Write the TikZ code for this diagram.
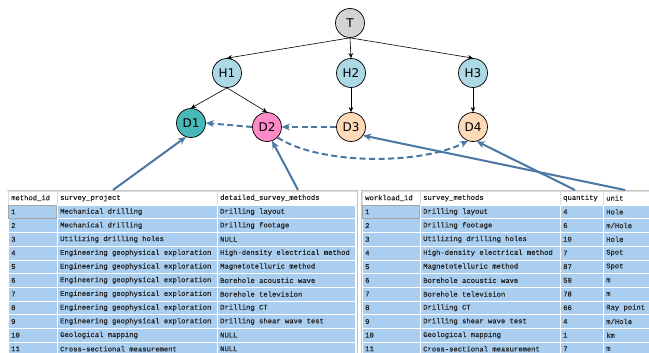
\documentclass[tikz,border=0pt]{standalone}
\usepackage{fontspec}
\setmainfont{DejaVu Sans}
\newfontfamily\tabfont[FakeBold=0.4]{Liberation Mono}
\usetikzlibrary{arrows.meta}
\definecolor{tcol}{HTML}{D3D3D3}
\definecolor{hcol}{HTML}{ADD8E6}
\definecolor{donecol}{HTML}{48B8B8}
\definecolor{dtwocol}{HTML}{FF8AC8}
\definecolor{dthreecol}{HTML}{FFDAB9}
\definecolor{linkcol}{HTML}{4A77A3}
\definecolor{rowcol}{HTML}{A9CEF0}
\definecolor{gridcol}{HTML}{C4C4C4}
\definecolor{tabink}{HTML}{222222}
\tikzset{
  vert/.style={circle, draw=black, line width=0.7pt, minimum size=29pt, inner sep=0pt, font=\fontsize{12}{12}\selectfont},
  treeedge/.style={-{Stealth[length=5pt,width=4.5pt]}, line width=0.6pt, black},
  link/.style={draw=linkcol, line width=2pt, -{Stealth[length=8pt,width=7pt]}},
  dlink/.style={link, dash pattern=on 6pt off 3.5pt},
  tabtext/.style={anchor=west, inner sep=0pt, text=tabink, font=\tabfont\fontsize{7.2}{8}\selectfont},
  cell/.style={fill=rowcol, draw=white, line width=0.6pt},
  hcell/.style={fill=white, draw=gridcol!60, line width=0.5pt},
  selcell/.style={draw=gray!70, line width=0.5pt},
}
\newcommand\ltabrow[4]{%
  \pgfmathsetmacro\rowtop{205+(#1-1)*13.7}%
  \pgfmathsetmacro\rowbot{\rowtop+13.7}%
  \pgfmathsetmacro\rowmid{\rowtop+6.85}%
  \path[cell] (8,\rowtop) rectangle (57,\rowbot);
  \path[cell] (57,\rowtop) rectangle (217,\rowbot);
  \path[cell] (217,\rowtop) rectangle (355,\rowbot);
  \node[tabtext] (la#1) at (11,\rowmid) {#2};
  \node[tabtext] (lb#1) at (60,\rowmid) {#3};
  \node[tabtext] (lc#1) at (220,\rowmid) {#4};
}
\newcommand\rtabrow[5]{%
  \pgfmathsetmacro\rowtop{205+(#1-1)*13.7}%
  \pgfmathsetmacro\rowbot{\rowtop+13.7}%
  \pgfmathsetmacro\rowmid{\rowtop+6.85}%
  \path[cell] (362,\rowtop) rectangle (420,\rowbot);
  \path[cell] (420,\rowtop) rectangle (560,\rowbot);
  \path[cell] (560,\rowtop) rectangle (603,\rowbot);
  \path[cell] (603,\rowtop) rectangle (652,\rowbot);
  \node[tabtext] (ra#1) at (365,\rowmid) {#2};
  \node[tabtext] (rb#1) at (423,\rowmid) {#3};
  \node[tabtext] (rc#1) at (563,\rowmid) {#4};
  \node[tabtext] (rd#1) at (606,\rowmid) {#5};
}
\begin{document}
\begin{tikzpicture}[x=1pt,y=-1pt]
\useasboundingbox[fill=white] (0,0) rectangle (649,353);

% ---------- left table ----------
\path[hcell] (8,191) rectangle (57,205);
\path[hcell] (57,191) rectangle (217,205);
\path[hcell] (217,191) rectangle (357,205);
\node[tabtext] (lh1) at (11,198) {method\_id};
\node[tabtext] (lh2) at (60,198) {survey\_project};
\node[tabtext] (lh3) at (220,198) {detailed\_survey\_methods};
\ltabrow{1}{1}{Mechanical drilling}{Drilling layout}
\ltabrow{2}{2}{Mechanical drilling}{Drilling footage}
\ltabrow{3}{3}{Utilizing drilling holes}{NULL}
\ltabrow{4}{4}{Engineering geophysical exploration}{High-density electrical method}
\ltabrow{5}{5}{Engineering geophysical exploration}{Magnetotelluric method}
\ltabrow{6}{6}{Engineering geophysical exploration}{Borehole acoustic wave}
\ltabrow{7}{7}{Engineering geophysical exploration}{Borehole television}
\ltabrow{8}{8}{Engineering geophysical exploration}{Drilling CT}
\ltabrow{9}{9}{Engineering geophysical exploration}{Drilling shear wave test}
\ltabrow{10}{10}{Geological mapping}{NULL}
\ltabrow{11}{11}{Cross-sectional measurement}{NULL}
\draw[selcell] (8.5,205.5) rectangle (56.5,218.2);
\draw[gridcol, line width=1.2pt] (7,190.5) -- (357,190.5);
\draw[gridcol, line width=0.8pt] (357,190) -- (357,353);

% ---------- right table ----------
\path[hcell] (362,191) rectangle (420,205);
\path[hcell] (420,191) rectangle (560,205);
\path[hcell] (560,191) rectangle (603,205);
\path[hcell] (603,191) rectangle (652,205);
\node[tabtext] (rh1) at (365,198) {workload\_id};
\node[tabtext] (rh2) at (423,198) {survey\_methods};
\node[tabtext] (rh3) at (563,198) {quantity};
\node[tabtext] (rh4) at (606,198) {unit};
\rtabrow{1}{1}{Drilling layout}{4}{Hole}
\rtabrow{2}{2}{Drilling footage}{6}{m/Hole}
\rtabrow{3}{3}{Utilizing drilling holes}{10}{Hole}
\rtabrow{4}{4}{High-density electrical method}{7}{Spot}
\rtabrow{5}{5}{Magnetotelluric method}{87}{Spot}
\rtabrow{6}{6}{Borehole acoustic wave}{50}{m}
\rtabrow{7}{7}{Borehole television}{78}{m}
\rtabrow{8}{8}{Drilling CT}{66}{Ray point}
\rtabrow{9}{9}{Drilling shear wave test}{4}{m/Hole}
\rtabrow{10}{10}{Geological mapping}{1}{km}
\rtabrow{11}{11}{Cross-sectional measurement}{7}{m}
\draw[selcell] (362.5,205.5) rectangle (419.5,218.2);
\draw[gridcol, line width=1.2pt] (361,190.5) -- (649,190.5);
\draw[gridcol, line width=0.8pt] (361.5,190) -- (361.5,353);

% ---------- graph ----------
\node[vert, fill=tcol] (T) at (350,23) {T};
\node[vert, fill=hcol] (H1) at (227,73) {H1};
\node[vert, fill=hcol] (H2) at (351,73) {H2};
\node[vert, fill=hcol] (H3) at (473,73) {H3};
\node[vert, fill=donecol] (D1) at (191,123) {D1};
\node[vert, fill=dtwocol] (D2) at (267,127) {D2};
\node[vert, fill=dthreecol] (D3) at (351,127) {D3};
\node[vert, fill=dthreecol] (D4) at (473,127) {D4};

\draw[treeedge] (T.south) -- (H1.north);
\draw[treeedge] (T.south) -- (H2.north);
\draw[treeedge] (T.south) -- (H3.north);
\draw[treeedge] (H1.south) -- (D1.north);
\draw[treeedge] (H1.south) -- (D2.north);
\draw[treeedge] (H2.south) -- (D3.north);
\draw[treeedge] (H3.south) -- (D4.north);

\draw[dlink] (D3.west) -- (D2.east);
\draw[dlink] (D2.west) -- (D1.east);
\draw[dlink] (D2.315) .. controls (320,165) and (420,165) .. (D4.250);

\coordinate (la) at (113,190);
\coordinate (lb) at (298,190);
\coordinate (ra) at (575,190);
\coordinate (rb) at (625,190);
\draw[link] (la) -- (D1.250);
\draw[link] (lb) -- (D2.290);
\draw[link] (ra) -- (D4.285);
\draw[link] (rb) -- (D3.325);
\end{tikzpicture}
\end{document}
